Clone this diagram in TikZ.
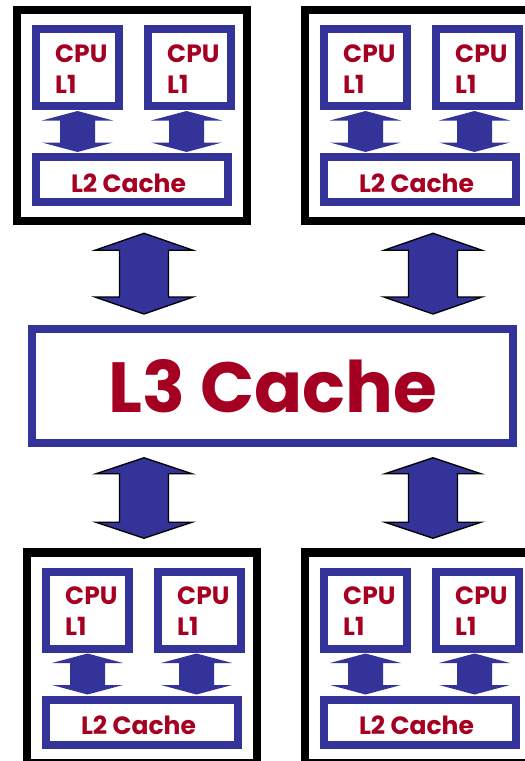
\documentclass[tikz,border=0pt]{standalone}
\usepackage{fontspec}
\usetikzlibrary{calc}
\newfontfamily\labelfont{Poppins}

\definecolor{cacheblue}{HTML}{333399}
\definecolor{labelred}{HTML}{A50021}

\tikzset{
  chip/.style={draw=black, line width=8.5pt, fill=white, inner sep=0pt,
    minimum width=230pt, minimum height=211pt},
  cpubox/.style={draw=cacheblue, line width=8pt, fill=white, inner sep=0pt,
    minimum width=83pt, minimum height=77pt},
  l2box/.style={draw=cacheblue, line width=8pt, fill=white, inner sep=0pt,
    minimum width=192pt, minimum height=45pt},
  l3box/.style={draw=cacheblue, line width=8pt, fill=white, inner sep=0pt,
    minimum width=480.4pt, minimum height=113.7pt},
  smalltxt/.style={text=labelred, inner sep=0pt,
    font=\labelfont\bfseries\fontsize{25}{25}\selectfont},
  bigtxt/.style={text=labelred, inner sep=0pt,
    font=\labelfont\bfseries\fontsize{71}{71}\selectfont},
  smallarrow/.style={fill=cacheblue},
  bigarrow/.style={fill=cacheblue, draw=black, line width=1.3pt, line join=miter},
}

% block double arrow: style, upper tip, lower tip, head half width, shaft half width, head length
\newcommand\blockarrow[6]{%
  \path[#1] (#2) -- ($(#2)+(#4,#6)$) -- ($(#2)+(#5,#6)$)
    -- ($(#3)+(#5,-#6)$) -- ($(#3)+(#4,-#6)$) -- (#3)
    -- ($(#3)+(-#4,-#6)$) -- ($(#3)+(-#5,-#6)$)
    -- ($(#2)+(-#5,#6)$) -- ($(#2)+(-#4,#6)$) -- cycle;
}

% one processor chip: two CPU/L1 boxes over a shared L2 cache
\newcommand\cachecluster[3]{%
  \node[chip] (#1) at (#2,#3) {};
  \node[cpubox] (#1-cpua) at ($(#1)+(-54.5,-48)$) {};
  \node[cpubox] (#1-cpub) at ($(#1)+(57.5,-48)$) {};
  \node[l2box] (#1-l2) at ($(#1)+(0,64)$) {};
  \node[smalltxt, anchor=base west] (#1-cpua-t) at ($(#1-cpua.center)+(-22.5,-5.5)$) {CPU};
  \node[smalltxt, anchor=base west] (#1-cpua-l) at ($(#1-cpua.center)+(-22.5,25.5)$) {L1};
  \node[smalltxt, anchor=base west] (#1-cpub-t) at ($(#1-cpub.center)+(-22.5,-5.5)$) {CPU};
  \node[smalltxt, anchor=base west] (#1-cpub-l) at ($(#1-cpub.center)+(-22.5,25.5)$) {L1};
  \node[smalltxt, anchor=base] (#1-l2-t) at ($(#1-l2.center)+(-3.5,12.5)$) {L2 Cache};
  \coordinate (#1-aa-top) at ($(#1-cpua.south)+(0,1)$);
  \coordinate (#1-aa-bot) at ($(#1-aa-top |- #1-l2.north)+(0,-1)$);
  \coordinate (#1-ab-top) at ($(#1-cpub.south)+(-3,1)$);
  \coordinate (#1-ab-bot) at ($(#1-ab-top |- #1-l2.north)+(0,-1)$);
  \blockarrow{smallarrow}{#1-aa-top}{#1-aa-bot}{35.5}{17.5}{9.5}
  \blockarrow{smallarrow}{#1-ab-top}{#1-ab-bot}{35.5}{17.5}{9.5}
}

\begin{document}
\begin{tikzpicture}[x=1pt, y=-1pt]
  \clip (0,0) rectangle (525,761);
  \fill[white] (0,0) rectangle (525,761);

  \cachecluster{tl}{132}{115.5}
  \cachecluster{tr}{420}{115.5}
  \cachecluster{bl}{142}{658}
  \cachecluster{br}{420}{658}

  \node[l3box] (l3) at (272.5,385.9) {};
  \node[bigtxt, anchor=base] (l3-t) at ($(l3.center)+(0,27)$) {L3 Cache};

  % links between the chips and the shared L3 cache
  \coordinate (tl-up) at ($(tl.south)+(12,8)$);
  \coordinate (tl-dn) at ($(tl-up |- l3.north)+(0,-11)$);
  \coordinate (tr-up) at ($(tr.south)+(13,8)$);
  \coordinate (tr-dn) at ($(tr-up |- l3.north)+(0,-11)$);
  \coordinate (bl-up) at ($(l3.south -| bl.north)+(2,11)$);
  \coordinate (bl-dn) at ($(bl-up |- bl.north)+(0,-10)$);
  \coordinate (br-up) at ($(l3.south -| br.north)+(13,11)$);
  \coordinate (br-dn) at ($(br-up |- br.north)+(0,-10)$);
  \blockarrow{bigarrow}{tl-up}{tl-dn}{49}{24.5}{17}
  \blockarrow{bigarrow}{tr-up}{tr-dn}{49}{24.5}{17}
  \blockarrow{bigarrow}{bl-up}{bl-dn}{48}{24.5}{16}
  \blockarrow{bigarrow}{br-up}{br-dn}{48}{24.5}{16}
\end{tikzpicture}
\end{document}
